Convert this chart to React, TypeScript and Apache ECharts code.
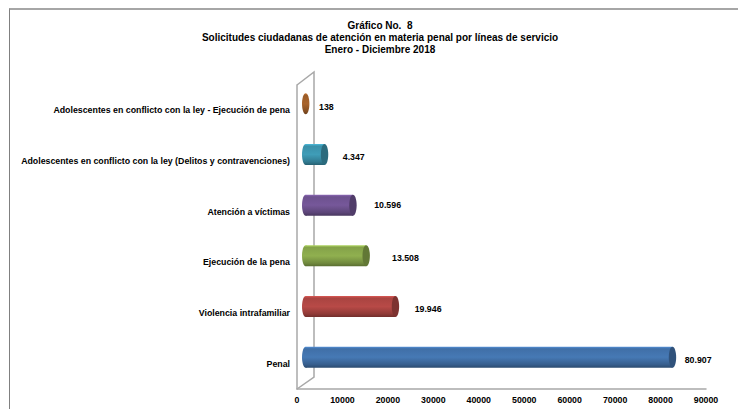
import React, { useEffect, useRef } from "react";
import * as echarts from "echarts";

const categories = [
  "Penal",
  "Violencia intrafamiliar",
  "Ejecución de la pena",
  "Atención a víctimas",
  "Adolescentes en conflicto con la ley (Delitos y contravenciones)",
  "Adolescentes en conflicto con la ley - Ejecución de pena",
];
const values = [80907, 19946, 13508, 10596, 4347, 138];
const valueLabels = ["80.907", "19.946", "13.508", "10.596", "4.347", "138"];
const colors = ["#4679b5", "#b84a47", "#90b04f", "#76589a", "#3f9db8", "#a9642c"];
const titleLines = [
  "Gráfico No.  8",
  "Solicitudes ciudadanas de atención en materia penal por líneas de servicio",
  "Enero - Diciembre 2018",
];
const xTicks = { min: 0, max: 90000, interval: 10000 };

// Layout only: hand-placed label offsets from the value position, as in the reference.
const labelDx = [20, 27, 33.6, 29, 26, 21.4];
const labelDy = [-3.7, -4, -4.3, -6.7, -4, -3.3];

const FONT = "'Liberation Sans', Arial, sans-serif";
const DEPTH_Y = -6.5;
const RX = 3.7;
const RY = 10.5;
const GREY = "#a8a8a8";

// Multiplies a hex colour: k below 1 darkens, k above 1 lightens.
function shade(hex: string, k: number) {
  const n = parseInt(hex.slice(1), 16);
  const ch = (s: number) => Math.min(255, Math.round(((n >> s) & 255) * k));
  return `rgb(${ch(16)},${ch(8)},${ch(0)})`;
}

function bodyFill(c: string) {
  return new echarts.graphic.LinearGradient(0, 0, 0, 1, [
    { offset: 0, color: shade(c, 1.2) },
    { offset: 0.1, color: shade(c, 0.92) },
    { offset: 0.5, color: c },
    { offset: 0.85, color: shade(c, 0.78) },
    { offset: 1, color: shade(c, 0.62) },
  ]);
}

function renderItem(params: any, api: any) {
  const idx = params.dataIndex;
  const c = colors[idx];
  const v = api.value(0);
  const p0 = api.coord([0, api.value(1)]);
  const p1 = api.coord([v, api.value(1)]);
  const cy = p0[1] + DEPTH_Y;
  const x0 = p0[0] + 8.7;
  const x1 = p1[0] + 7.8;
  const fill = bodyFill(c);
  const children: any[] = [
    { type: "ellipse", shape: { cx: x0, cy, rx: RX, ry: RY }, style: { fill } },
  ];
  if (x1 > x0) {
    children.push({
      type: "rect",
      shape: { x: x0, y: cy - RY, width: x1 - x0, height: RY * 2 },
      style: { fill },
    });
    children.push({
      type: "ellipse",
      shape: { cx: x1, cy, rx: RX, ry: RY },
      style: { fill: shade(c, 0.68) },
    });
  }
  children.push({
    type: "text",
    style: {
      x: p1[0] + labelDx[idx],
      y: p0[1] + labelDy[idx],
      text: valueLabels[idx],
      font: `bold 8.8px ${FONT}`,
      fill: "#000",
      align: "left",
      verticalAlign: "middle",
    },
  });
  return { type: "group", children };
}

export default function App() {
  const ref = useRef<HTMLDivElement>(null);
  useEffect(() => {
    document.body.style.margin = "0";
    const chart = echarts.init(ref.current!, null, { renderer: "svg" });
    chart.setOption({
      animation: false,
      backgroundColor: "#fff",
      title: {
        text: titleLines.join("\n"),
        left: 375,
        top: 14,
        textAlign: "center",
        textStyle: {
          fontFamily: FONT,
          fontWeight: "bold",
          fontSize: 10,
          lineHeight: 12,
          color: "#000",
        },
      },
      grid: { left: 297, top: 85, width: 409, height: 304, containLabel: false },
      xAxis: {
        type: "value",
        ...xTicks,
        splitLine: { show: false },
        axisTick: { show: false },
        axisLine: { show: true, lineStyle: { color: GREY, width: 1.5 } },
        axisLabel: {
          margin: 6,
          formatter: (v: number) => String(v),
          fontFamily: FONT,
          fontWeight: "bold",
          fontSize: 8.8,
          color: "#000",
        },
      },
      yAxis: {
        type: "category",
        data: categories,
        axisTick: { show: false },
        axisLine: { show: true, lineStyle: { color: GREY, width: 1.5 } },
        axisLabel: {
          margin: 7,
          interval: 0,
          fontFamily: FONT,
          fontWeight: "bold",
          fontSize: 8.8,
          color: "#000",
        },
      },
      graphic: [
        {
          type: "polyline",
          shape: { points: [[297, 85], [314, 72], [314, 377], [297, 389]] },
          style: { stroke: GREY, lineWidth: 1.5, fill: "none" },
          z: -1,
        },
      ],
      series: [
        {
          type: "custom",
          coordinateSystem: "cartesian2d",
          clip: false,
          renderItem,
          encode: { x: 0, y: 1 },
          data: values.map((v, i) => [v, i]),
          z: 5,
        },
      ],
    });
    return () => chart.dispose();
  }, []);
  return (
    <div style={{ position: "relative", width: 738, height: 409, overflow: "hidden" }}>
      <div ref={ref} style={{ width: 738, height: 409 }} />
      <div
        style={{
          position: "absolute",
          left: 9,
          top: 8,
          width: 729,
          height: 401,
          boxSizing: "border-box",
          borderTop: "2px solid #a6a6a6",
          borderLeft: "1.5px solid #808080",
          pointerEvents: "none",
        }}
      />
    </div>
  );
}
